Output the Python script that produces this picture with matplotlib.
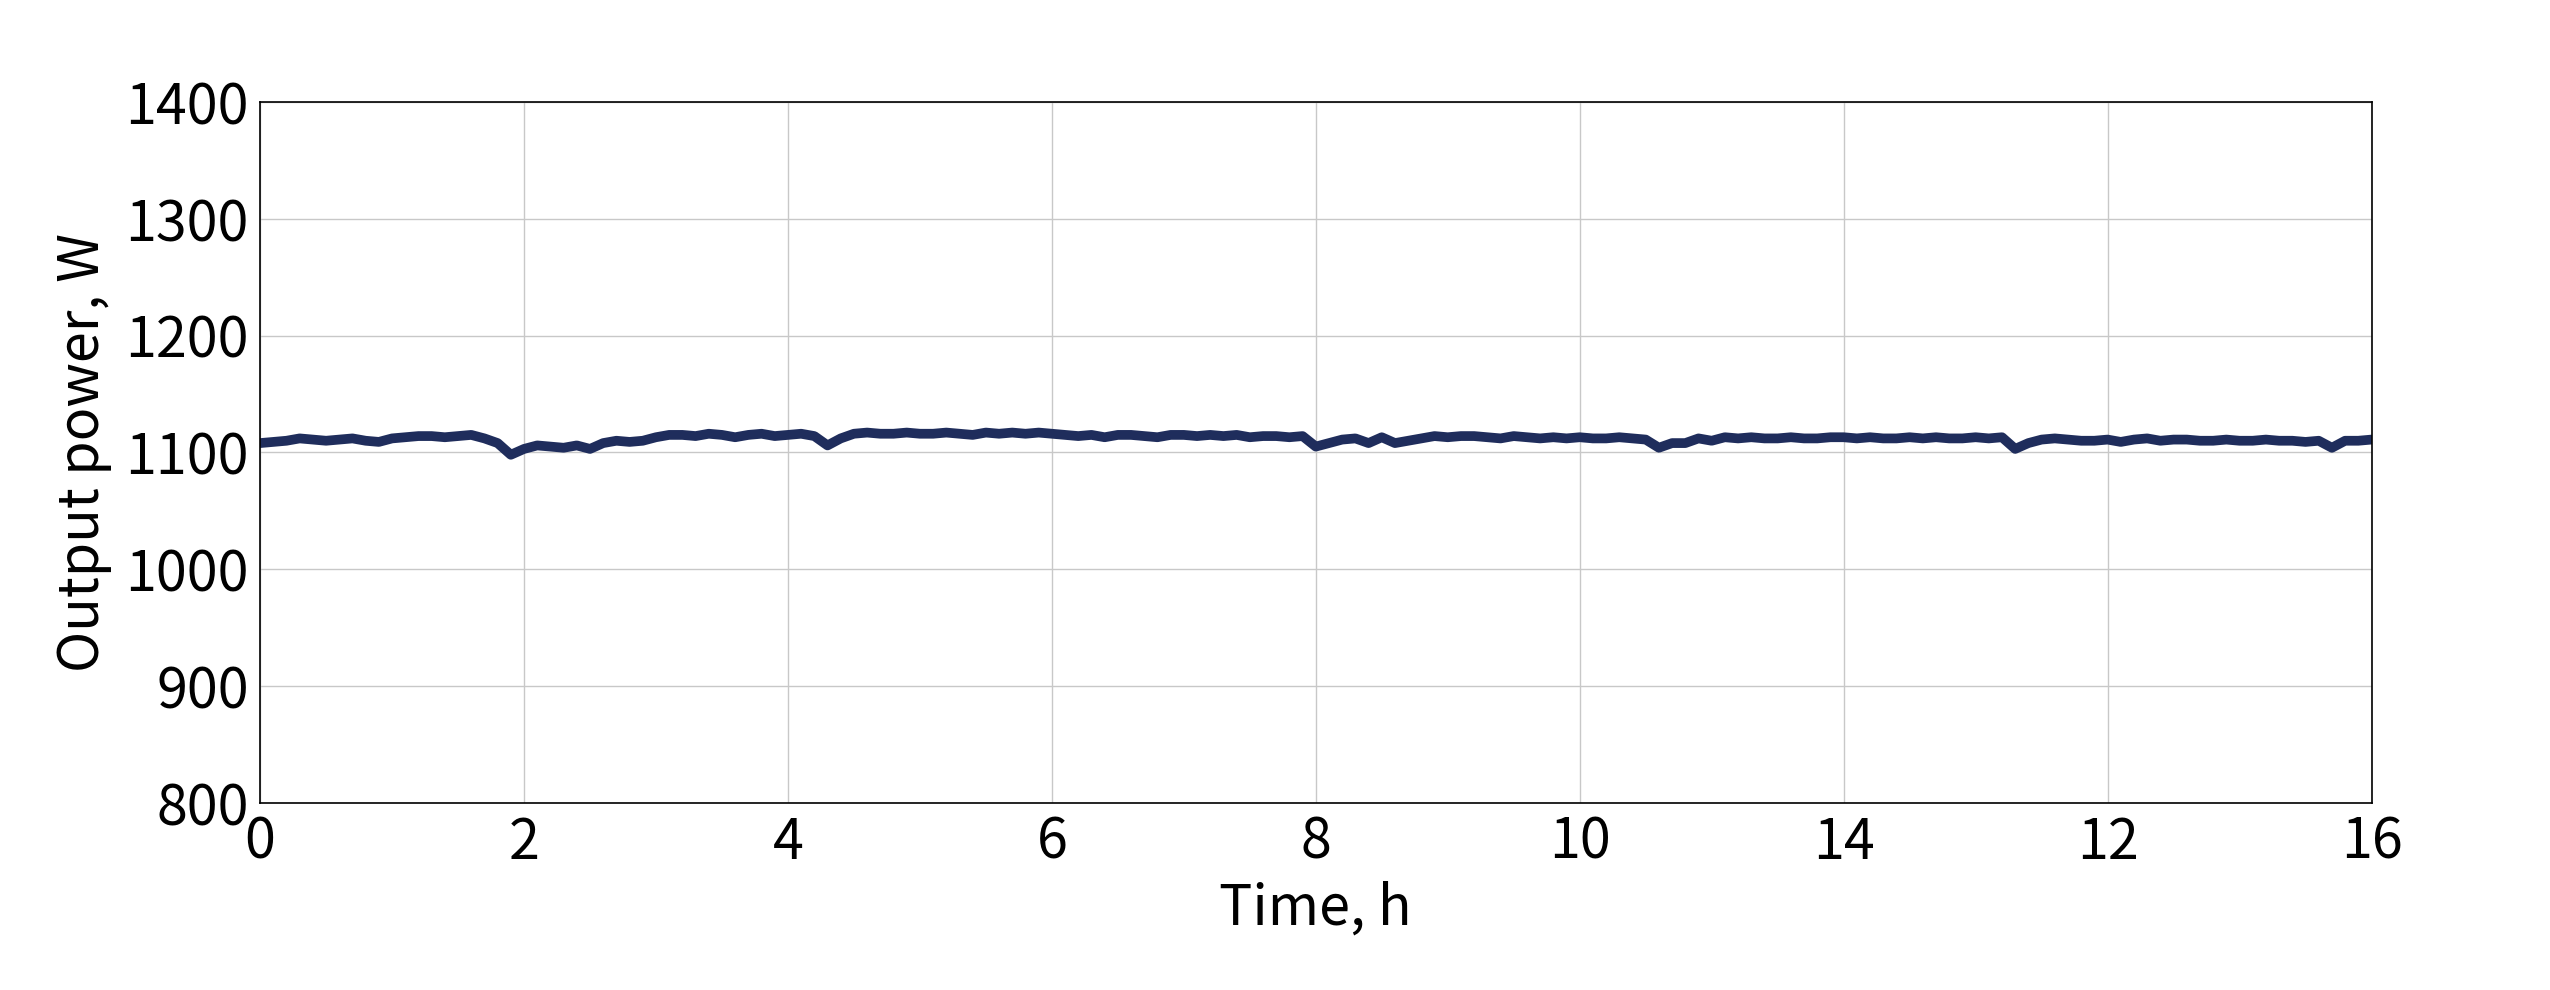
import matplotlib
matplotlib.use("Agg")
import matplotlib.pyplot as plt
import numpy as np

plt.rcParams['font.family'] = ['Noto Sans CJK SC', 'DejaVu Sans']

power = [1108,1109,1110,1112,1111,1110,1111,1112,1110,1109,
         1112,1113,1114,1114,1113,1114,1115,1112,1108,1098,
         1103,1106,1105,1104,1106,1103,1108,1110,1109,1110,
         1113,1115,1115,1114,1116,1115,1113,1115,1116,1114,
         1115,1116,1114,1106,1112,1116,1117,1116,1116,1117,
         1116,1116,1117,1116,1115,1117,1116,1117,1116,1117,
         1116,1115,1114,1115,1113,1115,1115,1114,1113,1115,
         1115,1114,1115,1114,1115,1113,1114,1114,1113,1114,
         1105,1108,1111,1112,1108,1113,1108,1110,1112,1114,
         1113,1114,1114,1113,1112,1114,1113,1112,1113,1112,
         1113,1112,1112,1113,1112,1111,1104,1108,1108,1112,
         1110,1113,1112,1113,1112,1112,1113,1112,1112,1113,
         1113,1112,1113,1112,1112,1113,1112,1113,1112,1112,
         1113,1112,1113,1103,1108,1111,1112,1111,1110,1110,
         1111,1109,1111,1112,1110,1111,1111,1110,1110,1111,
         1110,1110,1111,1110,1110,1109,1110,1104,1110,1110,
         1111]
time_h = np.arange(len(power)) * 0.1
xtick_pos = [0, 2, 4, 6, 8, 10, 12, 14, 16]
xtick_labels = ['0', '2', '4', '6', '8', '10', '14', '12', '16']
yticks = [800, 900, 1000, 1100, 1200, 1300, 1400]

fig = plt.figure(figsize=(25.5, 9.9), dpi=100)
ax = fig.add_axes([0.102, 0.189, 0.828, 0.708])
ax.plot(time_h, power, color='#1f2d5c', lw=7, solid_joinstyle='round', solid_capstyle='round')
ax.set_xlim(0, 16)
ax.set_ylim(800, 1400)
ax.set_xticks(xtick_pos)
ax.set_xticklabels(xtick_labels)
ax.set_yticks(yticks)
ax.grid(True, color='#c8c8c8', lw=1)
ax.tick_params(labelsize=40, length=0, pad=8)
for lab in ax.get_xticklabels() + ax.get_yticklabels():
    lab.set_fontweight('light')
ax.set_xlabel('Time, h', fontsize=40, fontweight='light', labelpad=6)
ax.set_ylabel('Output power, W', fontsize=40, fontweight='light', labelpad=10)
for s in ax.spines.values():
    s.set_linewidth(1.2)
fig.savefig('out.png', dpi=100)
